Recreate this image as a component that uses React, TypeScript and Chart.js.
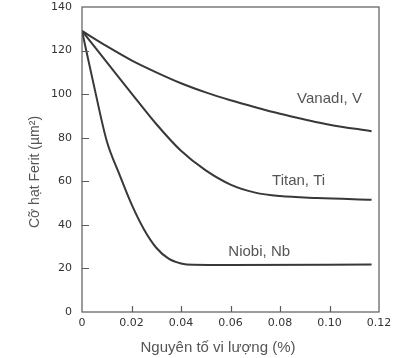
import React, { useEffect, useRef } from "react";
import { Chart, registerables } from "chart.js";

Chart.register(...registerables);

const X_TICKS = [0, 0.02, 0.04, 0.06, 0.08, 0.1, 0.12];
const Y_TICKS = [0, 20, 40, 60, 80, 100, 120, 140];

const vanadiX = [0, 0.01, 0.02, 0.03, 0.04, 0.05, 0.06, 0.07, 0.08, 0.09, 0.1, 0.117];
const vanadiY = [129, 122, 115.5, 110, 105, 100.8, 97.2, 94, 91, 88.4, 86, 83];

const titanX = [0, 0.01, 0.02, 0.03, 0.04, 0.05, 0.06, 0.07, 0.08, 0.095, 0.117];
const titanY = [129, 114.7, 100.4, 86.3, 74, 65, 58.5, 54.8, 53.2, 52.3, 51.5];

const niobiX = [0, 0.005, 0.01, 0.015, 0.02, 0.025, 0.03, 0.035, 0.04, 0.045, 0.06, 0.117];
const niobiY = [129, 103, 78.5, 63.5, 49.5, 38, 29.5, 24.5, 22.3, 21.7, 21.6, 21.8];

const seriesNames = ["Vanadı, V", "Titan, Ti", "Niobi, Nb"];
// label anchor positions, in data units (x, y)
const labelX = [0.1, 0.0875, 0.0716];
const labelY = [97.8, 60, 27.5];

const X_TITLE = "Nguyên tố vi lượng (%)";
const Y_TITLE = "Cỡ hạt Ferit (µm²)";

const toPoints = (xs: number[], ys: number[]) => xs.map((x, i) => ({ x, y: ys[i] }));

export default function App() {
  const ref = useRef<HTMLCanvasElement | null>(null);

  useEffect(() => {
    if (!ref.current) return;
    const lineColor = "#383838";
    const frameColor = "#5a5a5a";

    const framePlugin = {
      id: "frameAndTicks",
      afterDraw(chart: any) {
        const { ctx, chartArea } = chart;
        const xs = chart.scales.x;
        const ys = chart.scales.y;
        ctx.save();
        ctx.strokeStyle = frameColor;
        ctx.lineWidth = 1.2;
        ctx.strokeRect(chartArea.left, chartArea.top, chartArea.right - chartArea.left, chartArea.bottom - chartArea.top);
        // inward ticks
        ctx.beginPath();
        X_TICKS.slice(1, -1).forEach((v) => {
          const px = Math.round(xs.getPixelForValue(v)) + 0.5;
          ctx.moveTo(px, chartArea.bottom);
          ctx.lineTo(px, chartArea.bottom - 6);
        });
        Y_TICKS.slice(1, -1).forEach((v) => {
          const py = Math.round(ys.getPixelForValue(v)) + 0.5;
          ctx.moveTo(chartArea.left, py);
          ctx.lineTo(chartArea.left + 7, py);
        });
        ctx.stroke();

        // curve labels
        ctx.fillStyle = "#555";
        ctx.font = "15px 'Liberation Sans', Arial, sans-serif";
        ctx.textAlign = "center";
        ctx.textBaseline = "middle";
        seriesNames.forEach((n, i) => {
          ctx.fillText(n, xs.getPixelForValue(labelX[i]), ys.getPixelForValue(labelY[i]));
        });

        // axis titles
        ctx.fillText(X_TITLE, 218, 348);
        ctx.translate(35, 172);
        ctx.rotate(-Math.PI / 2);
        ctx.font = "14px 'Liberation Sans', Arial, sans-serif";
        ctx.fillText(Y_TITLE, 0, 0);
        ctx.restore();
      },
    };

    const mkSet = (label: string, xs: number[], ys: number[]) => ({
      label,
      data: toPoints(xs, ys),
      borderColor: lineColor,
      borderWidth: 2,
      pointRadius: 0,
      fill: false,
      cubicInterpolationMode: "monotone" as const,
    });

    const chart = new Chart(ref.current, {
      type: "line",
      data: {
        datasets: [
          mkSet(seriesNames[0], vanadiX, vanadiY),
          mkSet(seriesNames[1], titanX, titanY),
          mkSet(seriesNames[2], niobiX, niobiY),
        ],
      },
      options: {
        animation: false,
        responsive: false,
        devicePixelRatio: 1,
        layout: { padding: { top: 7, right: 20, left: 0, bottom: 0 } },
        plugins: { legend: { display: false }, tooltip: { enabled: false } },
        scales: {
          x: {
            type: "linear",
            min: 0,
            max: 0.12,
            afterBuildTicks: (s: any) => {
              s.ticks = X_TICKS.map((v) => ({ value: v }));
            },
            afterFit: (s: any) => {
              s.height = 46;
              s.paddingLeft = 0;
              s.paddingRight = 0;
            },
            ticks: {
              padding: 5,
              color: "#333",
              font: { family: "'DejaVu Sans'", size: 11 },
              callback: (v: any) => (Number(v) === 0 ? "0" : Number(v).toFixed(2)),
            },
            grid: { drawOnChartArea: false, drawTicks: false },
            border: { display: false },
          },
          y: {
            type: "linear",
            min: 0,
            max: 140,
            afterBuildTicks: (s: any) => {
              s.ticks = Y_TICKS.map((v) => ({ value: v }));
            },
            afterFit: (s: any) => {
              s.width = 82;
              s.paddingTop = 0;
              s.paddingBottom = 0;
            },
            ticks: {
              padding: 10,
              color: "#333",
              font: { family: "'DejaVu Sans'", size: 11 },
            },
            grid: { drawOnChartArea: false, drawTicks: false },
            border: { display: false },
          },
        },
      },
      plugins: [framePlugin],
    });
    return () => chart.destroy();
  }, []);

  return (
    <div style={{ position: "fixed", left: 0, top: 0, width: 399, height: 358, background: "#fff" }}>
      <canvas ref={ref} width={399} height={358} style={{ width: 399, height: 358, display: "block" }} />
    </div>
  );
}
